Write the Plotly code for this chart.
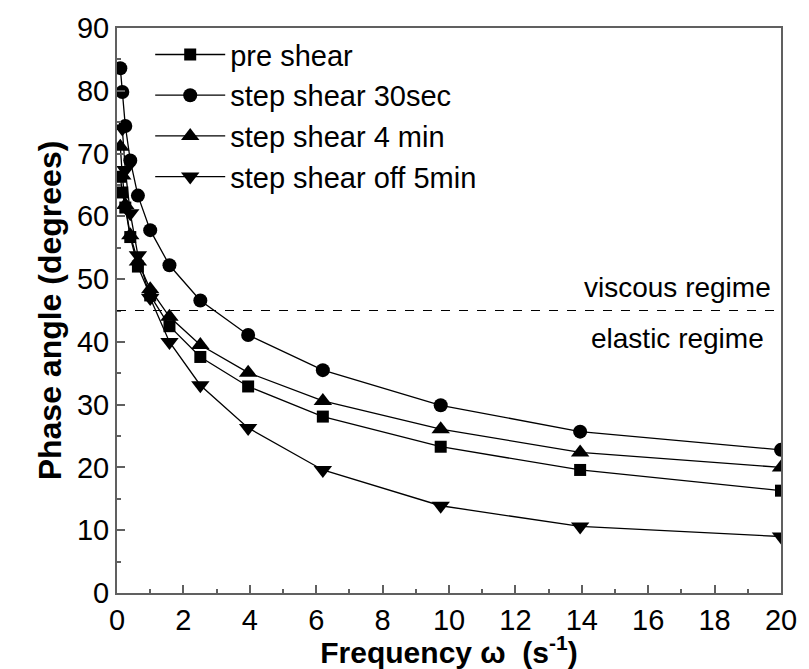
import plotly.graph_objects as go

freq = [0.1, 0.16, 0.25, 0.4, 0.63, 1.0, 1.58, 2.51, 3.95, 6.2, 9.75, 13.95, 20.0]
pre_shear = [66.3, 63.8, 61.4, 56.7, 52.0, 47.4, 42.5, 37.6, 32.9, 28.1, 23.3, 19.6, 16.3]
step_30sec = [83.6, 79.8, 74.4, 68.9, 63.3, 57.8, 52.2, 46.6, 41.1, 35.5, 29.9, 25.7, 22.8]
step_4min = [71.1, 66.5, 61.8, 57.0, 52.8, 48.4, 44.0, 39.5, 35.1, 30.6, 26.1, 22.4, 20.0]
freq_off = freq[1:]
step_off_5min = [74.0, 67.4, 60.5, 53.8, 47.0, 40.0, 33.1, 26.3, 19.6, 13.9, 10.6, 9.0]

series = [
    ("pre shear", freq, pre_shear, "square", 12),
    ("step shear 30sec", freq, step_30sec, "circle", 14),
    ("step shear 4 min", freq, step_4min, "triangle-up", 16),
    ("step shear off 5min", freq_off, step_off_5min, "triangle-down", 16),
]

FONT = "Liberation Sans, Arial, sans-serif"
AXC = "#606060"

fig = go.Figure()
for name, xs, ys, sym, sz in series:
    fig.add_trace(go.Scatter(
        x=xs, y=ys, name=name, mode="lines+markers",
        line=dict(color="black", width=1.3),
        marker=dict(symbol=sym, size=sz, color="black"),
    ))

fig.add_hline(y=45, line=dict(color="black", width=1.2, dash="dash"))
fig.add_annotation(x=16.87, y=48.7, text="viscous regime", showarrow=False,
                   font=dict(size=28, color="black", family=FONT))
fig.add_annotation(x=16.87, y=40.6, text="elastic regime", showarrow=False,
                   font=dict(size=28, color="black", family=FONT))

axis_common = dict(
    showgrid=False, zeroline=False, showline=True, linecolor=AXC, linewidth=2,
    mirror=True, ticks="inside", tickcolor=AXC, ticklen=8, tickwidth=1.5,
    tickfont=dict(size=29, color="black", family=FONT),
)
fig.update_xaxes(range=[0, 20], dtick=2,
                 minor=dict(dtick=1, ticks="inside", ticklen=4, tickcolor=AXC, tickwidth=1.5),
                 title=dict(text="<b>Frequency ω  (s<sup>-1</sup>)</b>", standoff=0,
                            font=dict(size=30, color="black", family=FONT)),
                 **axis_common)
fig.update_yaxes(range=[0, 90], dtick=10,
                 minor=dict(dtick=5, ticks="inside", ticklen=4, tickcolor=AXC, tickwidth=1.5),
                 title=dict(text="<b>Phase angle (degrees)</b>", standoff=6,
                            font=dict(size=32, color="black", family=FONT)),
                 **axis_common)

fig.update_layout(
    width=809, height=669,
    margin=dict(l=117, r=19, t=28, b=76),
    paper_bgcolor="white", plot_bgcolor="white",
    font=dict(family=FONT, color="black"),
    legend=dict(x=0.05, y=0.998, xanchor="left", yanchor="top",
                bgcolor="rgba(0,0,0,0)", itemwidth=70, tracegroupgap=0,
                font=dict(size=29, color="black", family=FONT)),
)

fig.write_html("out.html")
